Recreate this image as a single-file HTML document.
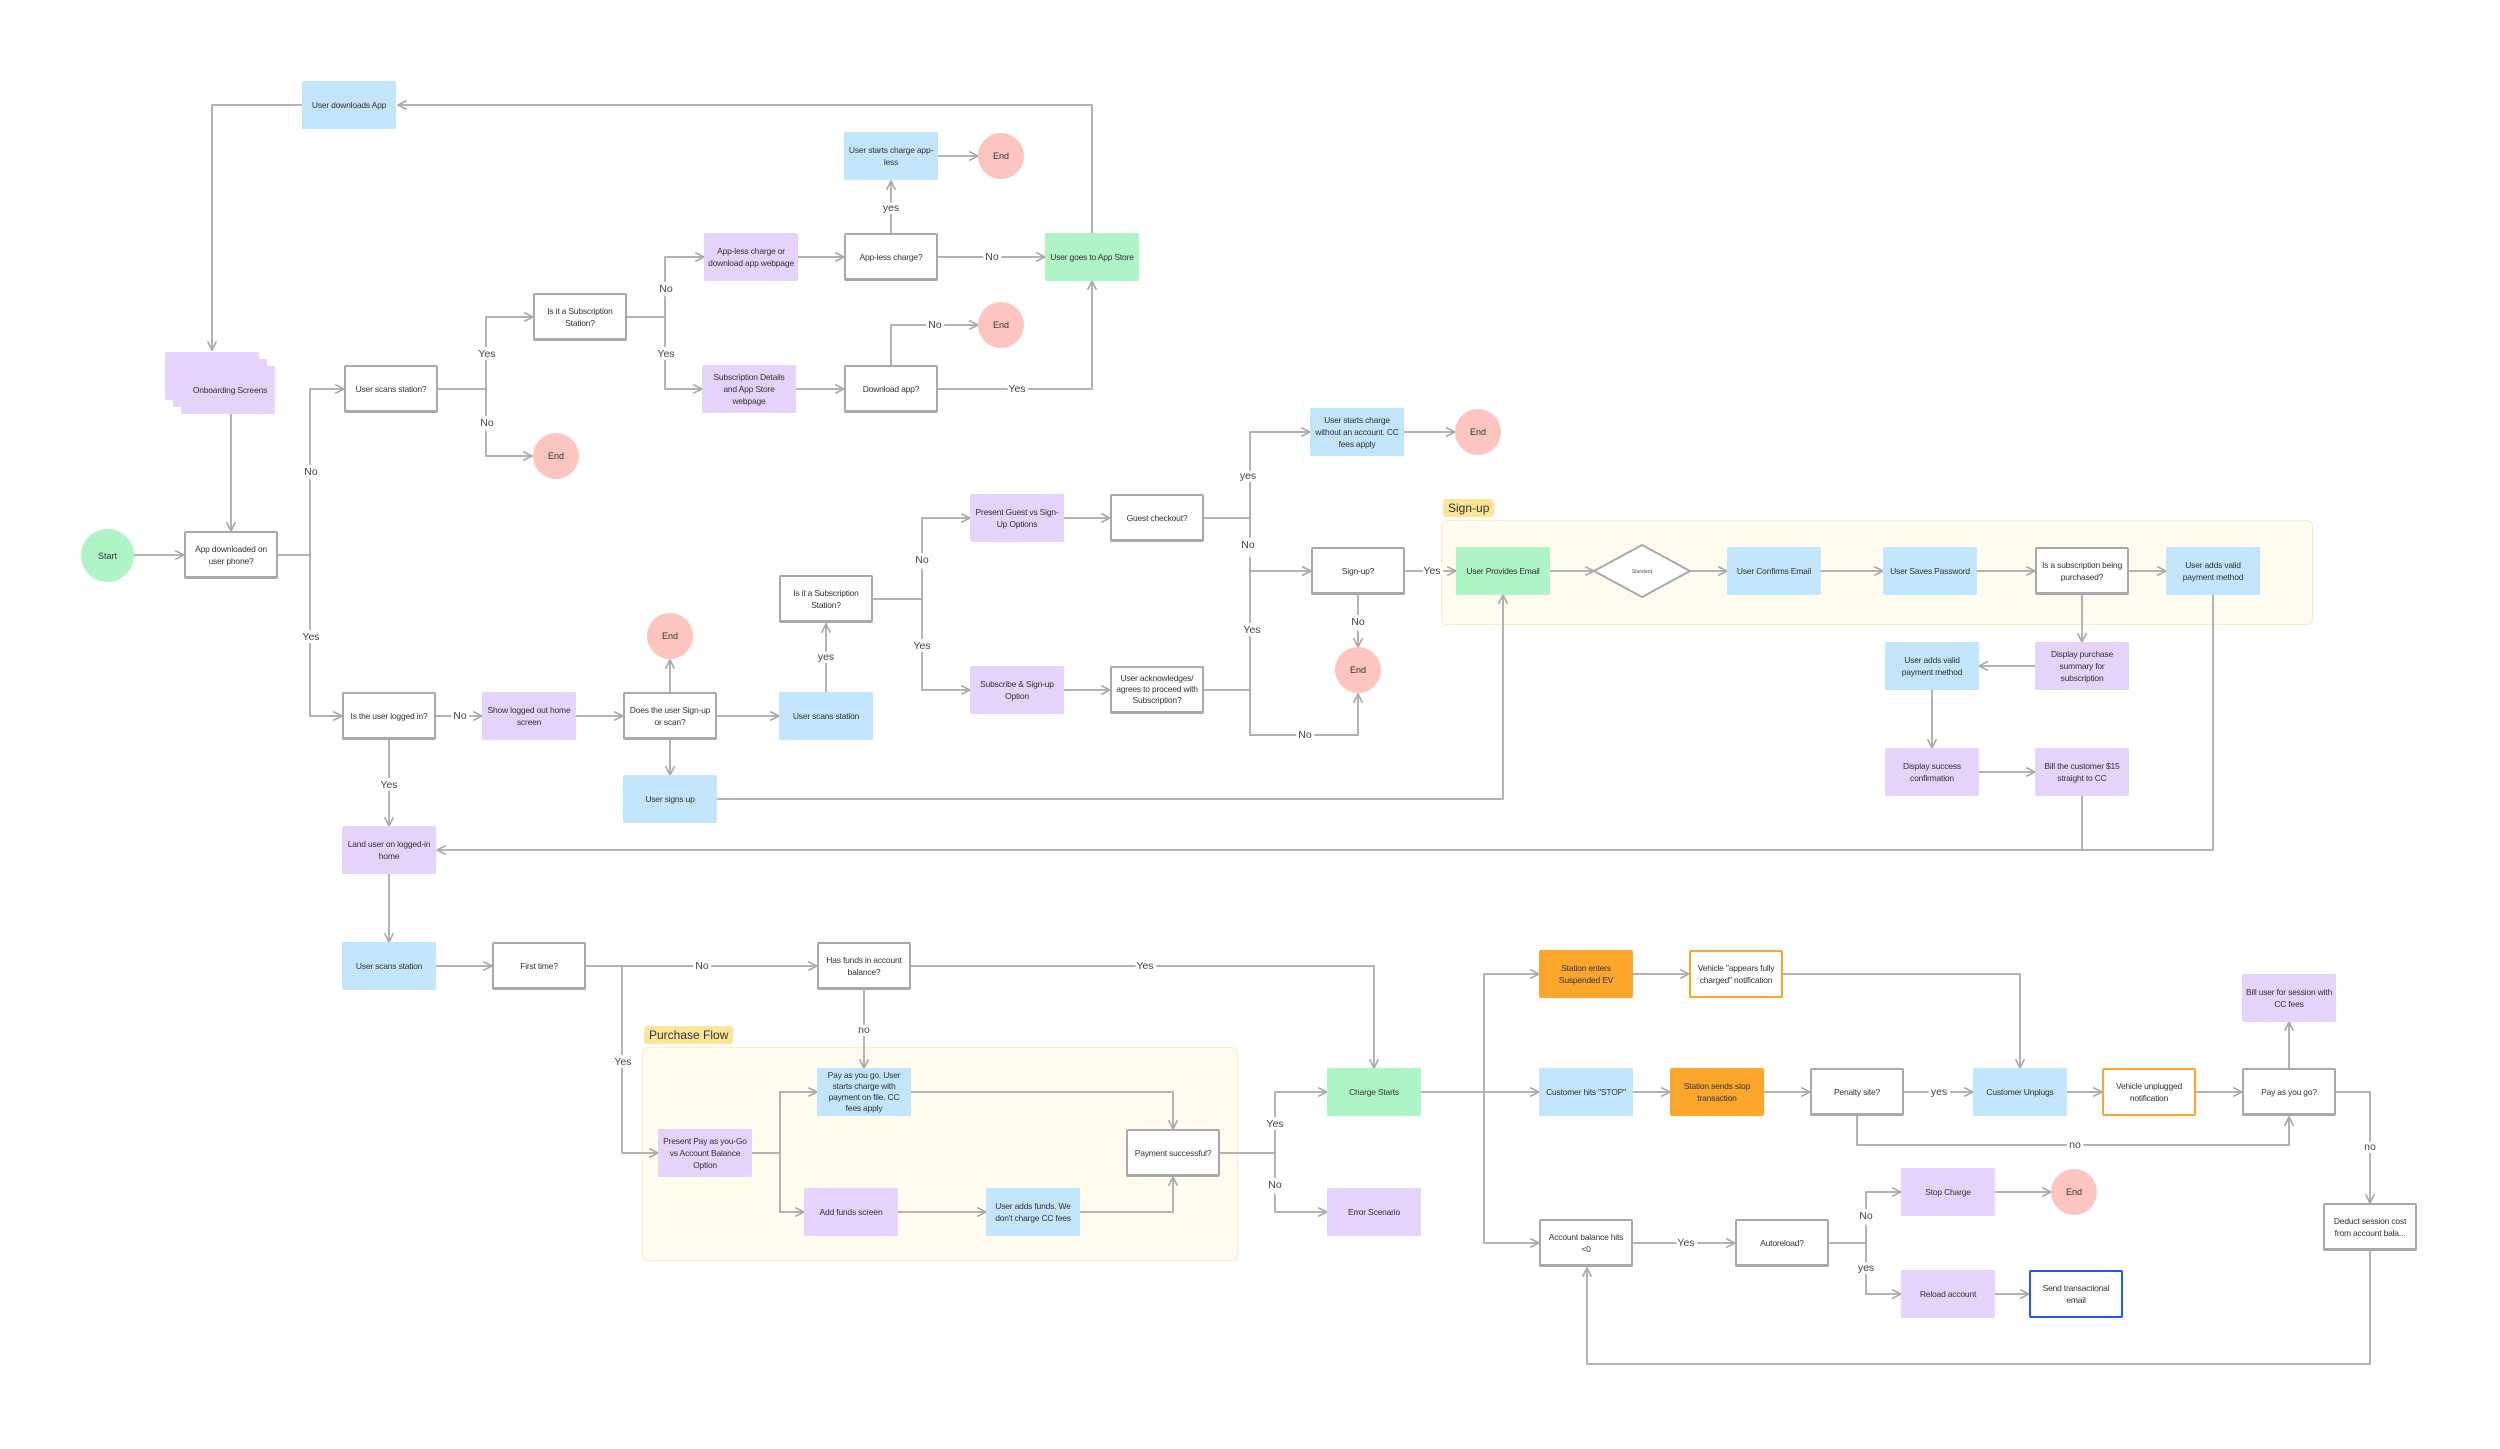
<!DOCTYPE html>
<html><head><meta charset="utf-8">
<style>
html,body{margin:0;padding:0;background:#fff;}
#c{position:relative;width:2500px;height:1449px;overflow:hidden;font-family:"Liberation Sans",sans-serif;}
svg{position:absolute;left:0;top:0;}
.n{position:absolute;width:94px;height:48px;margin-left:-47px;margin-top:-24px;box-sizing:border-box;display:flex;align-items:center;justify-content:center;text-align:center;font-size:8.5px;line-height:12px;color:#333;padding:2px 4px;border-radius:2px;letter-spacing:-0.2px;}
.b{background:#c2e5fc;}
.p{background:#e5d3fc;}
.g{background:#aff4c6;}
.o{background:#fca72c;}
.w{background:#fff;border:2px solid #a9a9a9;border-bottom-width:3px;}
.wo{background:#fff;border:2px solid #fca72c;}
.wb{background:#fff;border:2.5px solid #2456f0;}
.e{position:absolute;width:46px;height:46px;margin-left:-23px;margin-top:-23px;border-radius:50%;background:#fdc5bf;display:flex;align-items:center;justify-content:center;font-size:9px;color:#333;}
.grp{position:absolute;background:#fffcef;border:1px solid #f6eecb;border-radius:6px;}
.gl{position:absolute;background:#fde598;border-radius:3px;font-size:12px;color:#333;padding:2px 5px;}
</style></head><body><div id="c">
<div class="grp" style="left:1441px;top:520px;width:870px;height:103px"></div>
<div class="gl" style="left:1443px;top:499px">Sign-up</div>
<div class="grp" style="left:642px;top:1047px;width:594px;height:212px"></div>
<div class="gl" style="left:644px;top:1026px">Purchase Flow</div>

<svg width="2500" height="1449" viewBox="0 0 2500 1449">
<defs><marker id="a" viewBox="0 0 10 10" refX="9" refY="5" markerWidth="11" markerHeight="11" markerUnits="userSpaceOnUse" orient="auto"><path d="M1 1 L9 5 L1 9" fill="none" stroke="#a9a9a9" stroke-width="1.5"/></marker></defs>
<g fill="none" stroke="#b3b3b3" stroke-width="2" stroke-linejoin="round" marker-end="url(#a)">
<path d="M133 555H184"/>
<path d="M278 555H310V389H344"/>
<path d="M278 555H310V716H342"/>
<path d="M302 105H212V350"/>
<path d="M231 414V531"/>
<path d="M438 389H486V317H533"/>
<path d="M438 389H486V456H532"/>
<path d="M627 317H665V257H704"/>
<path d="M627 317H665V389H702"/>
<path d="M798 257H844"/>
<path d="M891 233V181"/>
<path d="M938 257H1045"/>
<path d="M938 156H978"/>
<path d="M796 389H844"/>
<path d="M891 365V325H978"/>
<path d="M938 389H1092V281"/>
<path d="M1092 233V105H398"/>
<path d="M436 716H482"/>
<path d="M576 716H623"/>
<path d="M670 692V660"/>
<path d="M670 740V775"/>
<path d="M717 716H779"/>
<path d="M826 692V624"/>
<path d="M873 599H922V518H970"/>
<path d="M873 599H922V690H970"/>
<path d="M1064 518H1110"/>
<path d="M1064 690H1110"/>
<path d="M1204 518H1250V432H1310"/>
<path d="M1204 518H1250V571H1311"/>
<path d="M1204 690H1250V571H1311"/>
<path d="M1250 690V735H1358V694"/>
<path d="M1404 432H1455"/>
<path d="M1358 595V647"/>
<path d="M1405 571H1456"/>
<path d="M717 799H1503V595"/>
<path d="M1550 571H1594"/>
<path d="M1690 571H1727"/>
<path d="M1821 571H1883"/>
<path d="M1977 571H2035"/>
<path d="M2129 571H2166"/>
<path d="M2082 595V642"/>
<path d="M2035 666H1979"/>
<path d="M1932 690V748"/>
<path d="M1979 772H2035"/>
<path d="M2082 796V850H437" />
<path d="M2213 595V850H2080" marker-end="none"/>
<path d="M389 740V826"/>
<path d="M389 874V942"/>
<path d="M436 966H492"/>
<path d="M586 966H817"/>
<path d="M586 966H622V1153H658"/>
<path d="M911 966H1374V1068"/>
<path d="M864 990V1068"/>
<path d="M752 1153H780V1092H817"/>
<path d="M752 1153H780V1212H804"/>
<path d="M911 1092H1173V1129"/>
<path d="M898 1212H986"/>
<path d="M1080 1212H1173V1177"/>
<path d="M1220 1153H1275V1092H1327"/>
<path d="M1220 1153H1275V1212H1327"/>
<path d="M1421 1092H1484V974H1539"/>
<path d="M1421 1092H1539"/>
<path d="M1484 1092V1243H1539"/>
<path d="M1633 974H1689"/>
<path d="M1783 974H2020V1068"/>
<path d="M1633 1092H1670"/>
<path d="M1764 1092H1810"/>
<path d="M1904 1092H1973"/>
<path d="M1857 1116V1145H2289V1117"/>
<path d="M2067 1092H2102"/>
<path d="M2196 1092H2242"/>
<path d="M2289 1068V1022"/>
<path d="M2336 1092H2370V1203"/>
<path d="M2370 1251V1364H1587V1268"/>
<path d="M1633 1243H1735"/>
<path d="M1829 1243H1866V1192H1901"/>
<path d="M1829 1243H1866V1294H1901"/>
<path d="M1995 1192H2051"/>
<path d="M1995 1294H2029"/>
</g>
<g font-family="Liberation Sans, sans-serif" font-size="10.5" fill="#444" text-anchor="middle" dominant-baseline="middle" stroke="#fff" stroke-width="6" paint-order="stroke">
<text x="311" y="472">No</text><text x="311" y="637">Yes</text>
<text x="487" y="354">Yes</text><text x="487" y="423">No</text>
<text x="666" y="289">No</text><text x="666" y="354">Yes</text>
<text x="891" y="208">yes</text><text x="992" y="257">No</text>
<text x="935" y="325">No</text><text x="1017" y="389">Yes</text>
<text x="460" y="716">No</text><text x="826" y="657">yes</text>
<text x="922" y="560">No</text><text x="922" y="646">Yes</text>
<text x="1248" y="476">yes</text><text x="1248" y="545">No</text>
<text x="1252" y="630">Yes</text><text x="1305" y="735">No</text>
<text x="1358" y="622">No</text><text x="1432" y="571">Yes</text>
<text x="389" y="785">Yes</text><text x="702" y="966">No</text>
<text x="623" y="1062">Yes</text><text x="1145" y="966">Yes</text>
<text x="864" y="1030">no</text>
<text x="1275" y="1124">Yes</text><text x="1275" y="1185">No</text>
<text x="1939" y="1092">yes</text><text x="2075" y="1145">no</text>
<text x="2370" y="1147">no</text><text x="1686" y="1243">Yes</text>
<text x="1866" y="1216">No</text><text x="1866" y="1268">yes</text>
</g>
<polygon points="1594,571 1642,545 1690,571 1642,597" fill="#fff" stroke="#a9a9a9" stroke-width="2"/>
<text x="1642" y="573" font-family="Liberation Sans, sans-serif" font-size="5" fill="#555" text-anchor="middle">Standard</text>
</svg>

<div class="n b" style="left:349px;top:105px">User downloads App</div>
<div class="n p" style="left:212px;top:376px"></div>
<div class="n p" style="left:220px;top:383px"></div>
<div class="n p" style="left:228px;top:390px;padding-left:8px">Onboarding Screens</div>
<div class="e" style="left:107px;top:555px;width:53px;height:53px;margin-left:-26px;margin-top:-26px;background:#aff4c6">Start</div>
<div class="n w" style="left:231px;top:555px">App downloaded on user phone?</div>
<div class="n w" style="left:391px;top:389px">User scans station?</div>
<div class="n w" style="left:580px;top:317px">Is it a Subscription Station?</div>
<div class="e" style="left:556px;top:456px">End</div>
<div class="n p" style="left:751px;top:257px">App-less charge or download app webpage</div>
<div class="n p" style="left:749px;top:389px">Subscription Details and App Store webpage</div>
<div class="n w" style="left:891px;top:257px">App-less charge?</div>
<div class="n w" style="left:891px;top:389px">Download app?</div>
<div class="n b" style="left:891px;top:156px">User starts charge app-less</div>
<div class="e" style="left:1001px;top:156px">End</div>
<div class="e" style="left:1001px;top:325px">End</div>
<div class="n g" style="left:1092px;top:257px">User goes to App Store</div>

<div class="n w" style="left:389px;top:716px">Is the user logged in?</div>
<div class="n p" style="left:529px;top:716px">Show logged out home screen</div>
<div class="n w" style="left:670px;top:716px">Does the user Sign-up or scan?</div>
<div class="e" style="left:670px;top:636px">End</div>
<div class="n b" style="left:826px;top:716px">User scans station</div>
<div class="n b" style="left:670px;top:799px">User signs up</div>
<div class="n w" style="left:826px;top:599px">Is it a Subscription Station?</div>
<div class="n p" style="left:1017px;top:518px">Present Guest vs Sign-Up Options</div>
<div class="n p" style="left:1017px;top:690px">Subscribe &amp; Sign-up Option</div>
<div class="n w" style="left:1157px;top:518px">Guest checkout?</div>
<div class="n w" style="left:1157px;top:690px;line-height:11px">User acknowledges/ agrees to proceed with Subscription?</div>
<div class="n b" style="left:1357px;top:432px">User starts charge without an account. CC fees apply</div>
<div class="e" style="left:1478px;top:432px">End</div>
<div class="n w" style="left:1358px;top:571px">Sign-up?</div>
<div class="e" style="left:1358px;top:670px">End</div>

<div class="n g" style="left:1503px;top:571px">User Provides Email</div>
<div class="n b" style="left:1774px;top:571px">User Confirms Email</div>
<div class="n b" style="left:1930px;top:571px">User Saves Password</div>
<div class="n w" style="left:2082px;top:571px">Is a subscription being purchased?</div>
<div class="n b" style="left:2213px;top:571px">User adds valid payment method</div>
<div class="n p" style="left:2082px;top:666px">Display purchase summary for subscription</div>
<div class="n b" style="left:1932px;top:666px">User adds valid payment method</div>
<div class="n p" style="left:1932px;top:772px">Display success confirmation</div>
<div class="n p" style="left:2082px;top:772px">Bill the customer $15 straight to CC</div>

<div class="n p" style="left:389px;top:850px">Land user on logged-in home</div>
<div class="n b" style="left:389px;top:966px">User scans station</div>
<div class="n w" style="left:539px;top:966px">First time?</div>
<div class="n w" style="left:864px;top:966px">Has funds in account balance?</div>
<div class="n p" style="left:705px;top:1153px">Present Pay as you-Go vs Account Balance Option</div>
<div class="n b" style="left:864px;top:1092px;line-height:11px">Pay as you go. User starts charge with payment on file. CC fees apply</div>
<div class="n p" style="left:851px;top:1212px">Add funds screen</div>
<div class="n b" style="left:1033px;top:1212px">User adds funds. We don't charge CC fees</div>
<div class="n w" style="left:1173px;top:1153px">Payment successful?</div>
<div class="n g" style="left:1374px;top:1092px">Charge Starts</div>
<div class="n p" style="left:1374px;top:1212px">Error Scenario</div>

<div class="n o" style="left:1586px;top:974px">Station enters Suspended EV</div>
<div class="n wo" style="left:1736px;top:974px">Vehicle "appears fully charged" notification</div>
<div class="n b" style="left:1586px;top:1092px">Customer hits "STOP"</div>
<div class="n o" style="left:1717px;top:1092px">Station sends stop transaction</div>
<div class="n w" style="left:1857px;top:1092px">Penalty site?</div>
<div class="n b" style="left:2020px;top:1092px">Customer Unplugs</div>
<div class="n wo" style="left:2149px;top:1092px">Vehicle unplugged notification</div>
<div class="n w" style="left:2289px;top:1092px">Pay as you go?</div>
<div class="n p" style="left:2289px;top:998px">Bill user for session with CC fees</div>
<div class="n w" style="left:2370px;top:1227px">Deduct session cost from account bala...</div>
<div class="n w" style="left:1586px;top:1243px">Account balance hits &lt;0</div>
<div class="n w" style="left:1782px;top:1243px">Autoreload?</div>
<div class="n p" style="left:1948px;top:1192px">Stop Charge</div>
<div class="e" style="left:2074px;top:1192px">End</div>
<div class="n p" style="left:1948px;top:1294px">Reload account</div>
<div class="n wb" style="left:2076px;top:1294px">Send transactional email</div>
</div></body></html>
